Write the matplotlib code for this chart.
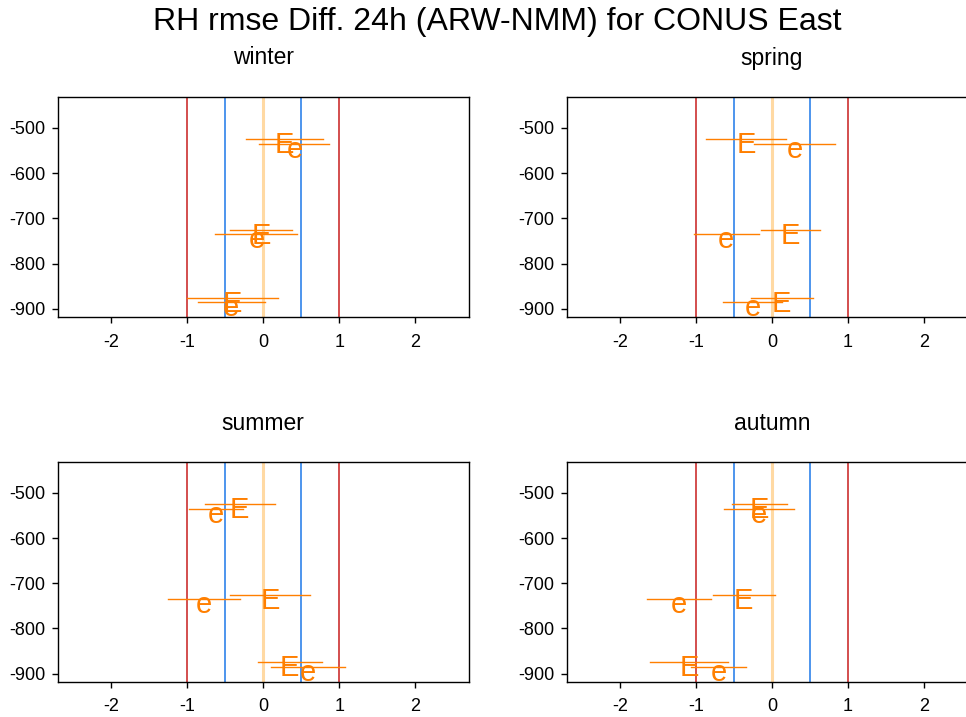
import matplotlib
matplotlib.use("Agg")
import matplotlib.pyplot as plt

plt.rcParams['font.family'] = ['Liberation Sans', 'DejaVu Sans']

title = "RH rmse Diff. 24h (ARW-NMM) for CONUS East"
seasons = ["winter", "spring", "summer", "autumn"]
levels = [500, 700, 850]

# mean differences and half-widths of the confidence bars, per season, per level
E_mean = {"winter": [0.28, -0.03, -0.40], "spring": [-0.34, 0.25, 0.13],
          "summer": [-0.31, 0.09, 0.35], "autumn": [-0.16, -0.37, -1.09]}
E_half = {"winter": [0.51, 0.41, 0.60], "spring": [0.53, 0.39, 0.41],
          "summer": [0.46, 0.53, 0.42], "autumn": [0.36, 0.41, 0.51]}
e_mean = {"winter": [0.41, -0.09, -0.42], "spring": [0.30, -0.60, -0.25],
          "summer": [-0.62, -0.78, 0.59], "autumn": [-0.17, -1.22, -0.70]}
e_half = {"winter": [0.46, 0.54, 0.44], "spring": [0.53, 0.43, 0.39],
          "summer": [0.36, 0.47, 0.49], "autumn": [0.46, 0.42, 0.36]}

E_offset = -25
e_offset = -35
orange = "#FF7F00"

W, H = 966, 717
fig = plt.figure(figsize=(W / 100, H / 100), dpi=100)

# axes boxes in pixels: (left, top, right, bottom)
boxes = [(58, 97, 468.5, 317), (566.7, 97, 977, 317),
         (58, 462.3, 468.5, 681.7), (566.7, 462.3, 977, 681.7)]

for season, (l, t, r, b) in zip(seasons, boxes):
    ax = fig.add_axes([l / W, 1 - b / H, (r - l) / W, (b - t) / H])
    ax.set_xlim(-2.7, 2.7)
    ax.set_ylim(-918, -432)
    ax.axvline(-1, color="#C81E1E", lw=1.1, zorder=1)
    ax.axvline(1, color="#C81E1E", lw=1.1, zorder=1)
    ax.axvline(-0.5, color="#1C78E8", lw=1.1, zorder=1)
    ax.axvline(0.5, color="#1C78E8", lw=1.1, zorder=1)
    ax.axvline(0, color="#FFD9A3", lw=2.2, zorder=1)
    for i, lev in enumerate(levels):
        yE = -lev + E_offset
        ye = -lev + e_offset
        mE, hE = E_mean[season][i], E_half[season][i]
        me, he = e_mean[season][i], e_half[season][i]
        ax.plot([mE - hE, mE + hE], [yE, yE], color=orange, lw=1, zorder=2)
        ax.plot([me - he, me + he], [ye, ye], color=orange, lw=1, zorder=2)
        ax.annotate("E", (mE, yE), xytext=(0, -14), textcoords="offset pixels",
                    ha="center", va="baseline", color=orange, fontsize=21, zorder=3,
                    annotation_clip=False)
        ax.annotate("e", (me, ye), xytext=(0, -14), textcoords="offset pixels",
                    ha="center", va="baseline", color=orange, fontsize=21, zorder=3,
                    annotation_clip=False)
    ax.set_xticks([-2, -1, 0, 1, 2])
    ax.set_xticklabels(["-2", "-1", "0", "1", "2"])
    ax.set_yticks([-500, -600, -700, -800, -900])
    ax.set_yticklabels(["-500", "-600", "-700", "-800", "-900"])
    ax.tick_params(direction="out", length=4, width=1, labelsize=13, pad=5,
                   colors="black")
    ax.tick_params(axis="x", pad=8)
    for s in ax.spines.values():
        s.set_linewidth(1)
        s.set_color("black")
    zero_px = l + (r - l) / 2
    fig.text(zero_px / W, 1 - (t - 39) / H, season, ha="center", va="center",
             fontsize=16.5)

fig.text(497 / W, 1 - 22 / H, title, ha="center", va="center", fontsize=23)

fig.savefig("out.png", dpi=100)
